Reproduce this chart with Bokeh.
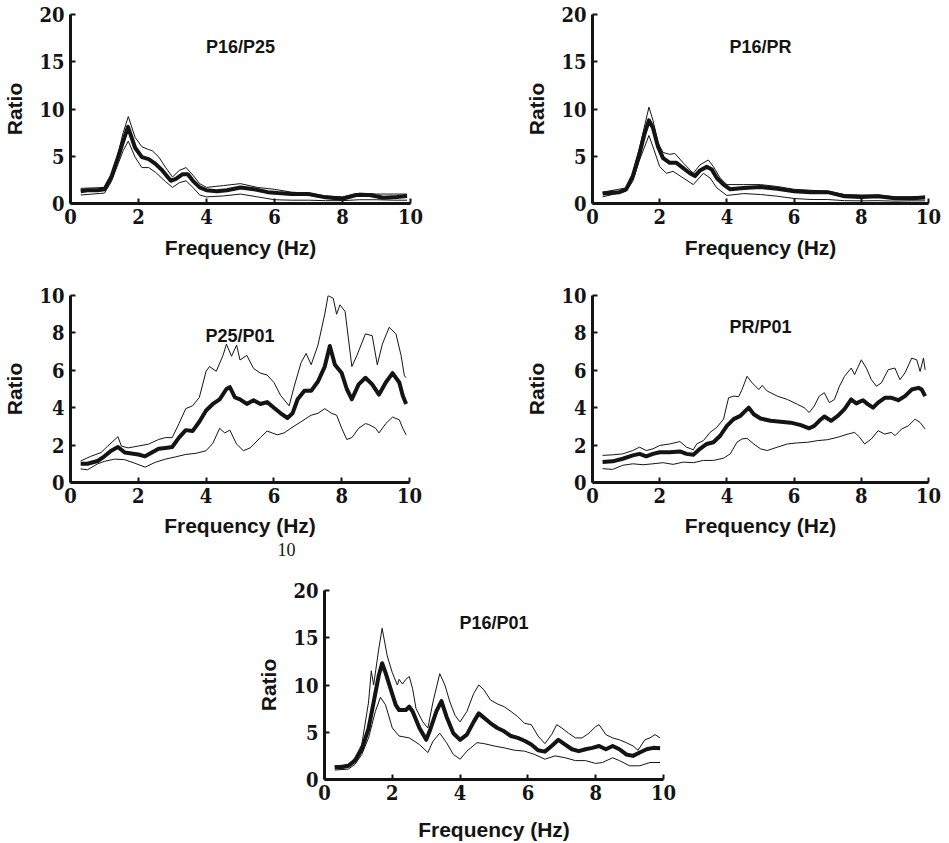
from bokeh.plotting import figure
from bokeh.models import Range1d, FixedTicker, Label, Title
from bokeh.layouts import row, column
from bokeh.embed import file_html
from bokeh.resources import INLINE

# ---------------- data ----------------
x_ticks = [0, 2, 4, 6, 8, 10]
y_ticks_20 = [0, 5, 10, 15, 20]
y_ticks_10 = [0, 2, 4, 6, 8, 10]

# P16/P25
p16p25_mean_f = [0.3, 0.5, 0.8, 1.0, 1.2, 1.4, 1.55, 1.69, 1.9, 2.1, 2.3, 2.5, 2.7, 2.95, 3.1, 3.3, 3.45, 3.6, 3.8, 4.0, 4.3, 4.6, 5.0, 5.4, 5.8, 6.1, 6.5, 7.0, 7.5, 8.0, 8.4, 8.8, 9.2, 9.6, 9.9]
p16p25_mean = [1.3, 1.4, 1.4, 1.5, 2.8, 4.9, 6.6, 8.1, 5.9, 4.9, 4.7, 4.2, 3.5, 2.4, 2.6, 3.1, 3.1, 2.4, 1.7, 1.4, 1.3, 1.4, 1.7, 1.5, 1.2, 1.1, 1.0, 1.0, 0.65, 0.5, 0.9, 0.9, 0.6, 0.7, 0.8]
p16p25_up_f = [0.3, 1.0, 1.2, 1.4, 1.55, 1.7, 1.9, 2.1, 2.3, 2.4, 2.6, 2.8, 3.0, 3.2, 3.4, 3.6, 3.8, 4.0, 4.5, 5.0, 5.5, 6.0, 6.5, 7.0, 7.5, 8.0, 8.5, 9.0, 9.5, 9.9]
p16p25_up = [1.6, 1.7, 3.0, 5.3, 7.5, 9.2, 7.0, 6.0, 5.7, 5.6, 4.9, 3.8, 2.8, 3.5, 3.8, 3.0, 2.1, 1.7, 1.9, 2.1, 1.7, 1.5, 1.2, 1.1, 0.8, 0.7, 1.1, 1.0, 1.0, 1.0]
p16p25_lo_f = [0.3, 1.0, 1.2, 1.4, 1.55, 1.7, 1.9, 2.1, 2.3, 2.5, 2.8, 3.0, 3.2, 3.4, 3.6, 3.8, 4.0, 4.5, 5.0, 5.5, 6.0, 6.5, 7.0, 7.5, 8.0, 8.5, 9.0, 9.5, 9.9]
p16p25_lo = [0.9, 1.1, 2.3, 4.2, 5.6, 6.6, 4.9, 3.8, 3.8, 3.3, 2.3, 1.7, 2.2, 2.4, 1.7, 0.9, 0.7, 0.8, 1.0, 0.7, 0.4, 0.35, 0.35, 0.3, 0.3, 0.4, 0.4, 0.35, 0.35]

# P16/PR
p16pr_mean_f = [0.3, 0.8, 1.0, 1.2, 1.4, 1.55, 1.68, 1.8, 1.95, 2.1, 2.3, 2.5, 2.7, 2.9, 3.05, 3.2, 3.4, 3.55, 3.7, 3.9, 4.1, 4.5, 5.0, 5.5, 6.0, 6.5, 7.0, 7.5, 8.0, 8.5, 9.0, 9.5, 9.9]
p16pr_mean = [1.05, 1.2, 1.5, 2.9, 5.3, 7.4, 8.8, 8.0, 6.0, 4.8, 4.3, 4.3, 3.75, 3.2, 2.9, 3.5, 3.9, 3.6, 2.7, 2.0, 1.5, 1.65, 1.75, 1.55, 1.3, 1.2, 1.2, 0.77, 0.7, 0.77, 0.56, 0.56, 0.63]
p16pr_up_f = [0.3, 1.0, 1.2, 1.4, 1.68, 1.8, 1.95, 2.1, 2.3, 2.45, 2.7, 3.0, 3.2, 3.45, 3.6, 3.8, 4.0, 4.5, 5.0, 5.5, 6.0, 6.5, 7.0, 7.5, 8.0, 8.5, 9.0, 9.5, 9.9]
p16pr_up = [1.2, 1.65, 3.2, 5.9, 10.2, 8.8, 6.4, 5.4, 5.2, 5.3, 4.3, 3.2, 4.1, 4.6, 3.9, 2.7, 2.0, 2.0, 2.0, 1.8, 1.5, 1.4, 1.3, 0.95, 0.9, 0.9, 0.7, 0.7, 0.77]
p16pr_lo_f = [0.3, 1.0, 1.2, 1.4, 1.68, 1.8, 2.0, 2.2, 2.4, 2.7, 3.0, 3.3, 3.5, 3.7, 4.0, 4.5, 5.0, 5.5, 6.0, 6.5, 7.0, 7.5, 8.0, 8.5, 9.0, 9.5, 9.9]
p16pr_lo = [0.7, 1.3, 2.35, 4.6, 7.2, 6.0, 3.9, 3.2, 3.4, 2.7, 2.0, 3.2, 2.7, 1.65, 0.85, 1.05, 0.95, 0.77, 0.53, 0.42, 0.42, 0.3, 0.28, 0.3, 0.25, 0.28, 0.28]

# P25/P01
p25p01_mean_f = [0.3, 0.5, 0.8, 1.0, 1.2, 1.4, 1.6, 1.8, 2.0, 2.2, 2.4, 2.6, 2.8, 3.0, 3.2, 3.4, 3.6, 3.8, 4.0, 4.2, 4.4, 4.6, 4.7, 4.85, 5.0, 5.2, 5.4, 5.6, 5.8, 6.0, 6.2, 6.4, 6.55, 6.7, 6.9, 7.1, 7.3, 7.5, 7.65, 7.8, 8.0, 8.15, 8.3, 8.5, 8.7, 8.9, 9.1, 9.3, 9.5, 9.7, 9.8, 9.9]
p25p01_mean = [1.0, 1.0, 1.15, 1.4, 1.7, 1.9, 1.6, 1.55, 1.5, 1.4, 1.6, 1.8, 1.85, 1.9, 2.4, 2.8, 2.75, 3.25, 3.85, 4.2, 4.45, 5.0, 5.1, 4.55, 4.45, 4.2, 4.4, 4.2, 4.3, 4.0, 3.7, 3.45, 3.7, 4.45, 4.9, 4.9, 5.4, 6.2, 7.3, 6.3, 5.85, 5.0, 4.45, 5.25, 5.6, 5.25, 4.7, 5.35, 5.85, 5.35, 4.65, 4.2]
p25p01_up_f = [0.3, 0.6, 0.9, 1.1, 1.4, 1.5, 1.7, 2.0, 2.3, 2.6, 2.8, 3.0, 3.2, 3.4, 3.6, 3.8, 4.0, 4.1, 4.3, 4.5, 4.6, 4.75, 4.9, 5.0, 5.2, 5.4, 5.6, 5.8, 6.0, 6.2, 6.45, 6.6, 6.8, 6.95, 7.1, 7.3, 7.5, 7.6, 7.75, 7.85, 7.95, 8.1, 8.3, 8.45, 8.7, 8.9, 9.05, 9.2, 9.4, 9.6, 9.75, 9.85, 9.9]
p25p01_up = [1.15, 1.4, 1.6, 1.95, 2.45, 1.95, 1.85, 1.95, 2.05, 2.3, 2.4, 2.4, 3.15, 3.95, 4.1, 4.55, 5.95, 6.2, 5.95, 6.8, 7.4, 6.75, 7.35, 6.55, 6.8, 6.1, 5.85, 5.75, 5.35, 4.65, 4.1, 5.15, 6.4, 6.9, 6.3, 7.35, 9.0, 10.0, 9.85, 9.0, 9.5, 9.15, 6.2, 6.8, 7.95, 7.85, 6.3, 7.4, 8.3, 7.95, 6.8, 5.7, 5.6]
p25p01_lo_f = [0.3, 0.5, 0.8, 1.0, 1.3, 1.6, 1.9, 2.2, 2.5, 2.8, 3.1, 3.4, 3.7, 4.0, 4.2, 4.4, 4.55, 4.7, 4.9, 5.1, 5.3, 5.6, 5.8, 6.1, 6.3, 6.5, 6.8, 7.1, 7.3, 7.5, 7.7, 7.85, 8.0, 8.15, 8.3, 8.5, 8.7, 8.8, 9.0, 9.1, 9.3, 9.5, 9.7, 9.8, 9.9]
p25p01_lo = [0.73, 0.68, 1.0, 1.13, 1.25, 1.22, 1.03, 0.82, 1.08, 1.25, 1.37, 1.5, 1.56, 1.7, 2.1, 2.9, 2.65, 2.8, 2.05, 1.7, 1.85, 2.4, 2.75, 2.55, 2.65, 2.9, 3.25, 3.6, 3.7, 3.95, 3.7, 3.6, 2.9, 2.3, 2.4, 2.9, 3.15, 3.1, 2.9, 2.65, 3.15, 3.5, 3.35, 2.9, 2.55]

# PR/P01
prp01_mean_f = [0.3, 0.6, 0.9, 1.2, 1.4, 1.6, 1.8, 2.0, 2.3, 2.6, 2.8, 3.0, 3.2, 3.4, 3.6, 3.8, 4.0, 4.2, 4.4, 4.55, 4.65, 4.8, 5.0, 5.3, 5.6, 5.9, 6.2, 6.45, 6.6, 6.75, 6.9, 7.1, 7.3, 7.5, 7.7, 7.85, 8.05, 8.2, 8.35, 8.5, 8.7, 8.9, 9.1, 9.3, 9.5, 9.7, 9.8, 9.9]
prp01_mean = [1.1, 1.13, 1.27, 1.45, 1.53, 1.4, 1.53, 1.62, 1.62, 1.66, 1.53, 1.48, 1.8, 2.06, 2.15, 2.5, 3.03, 3.39, 3.56, 3.83, 4.0, 3.65, 3.42, 3.3, 3.25, 3.2, 3.07, 2.9, 3.03, 3.3, 3.53, 3.3, 3.56, 3.92, 4.44, 4.23, 4.4, 4.18, 4.0, 4.27, 4.53, 4.53, 4.4, 4.62, 4.97, 5.06, 4.97, 4.62]
prp01_up_f = [0.3, 0.6, 0.9, 1.2, 1.4, 1.6, 1.8, 2.0, 2.3, 2.6, 2.8, 3.0, 3.1, 3.3, 3.5, 3.7, 3.9, 4.05, 4.2, 4.35, 4.45, 4.6, 4.75, 4.95, 5.05, 5.2, 5.5, 5.8, 6.1, 6.3, 6.45, 6.6, 6.75, 6.9, 7.05, 7.2, 7.35, 7.5, 7.7, 7.8, 8.0, 8.15, 8.3, 8.45, 8.6, 8.8, 9.0, 9.15, 9.3, 9.5, 9.65, 9.75, 9.85, 9.9]
prp01_up = [1.45, 1.48, 1.53, 1.71, 1.89, 1.71, 1.8, 1.98, 2.06, 2.19, 1.89, 1.75, 2.06, 2.24, 2.68, 2.95, 3.39, 4.53, 4.62, 4.59, 4.97, 5.68, 5.33, 4.97, 5.19, 4.89, 4.62, 4.44, 4.18, 4.0, 3.74, 4.09, 4.62, 4.8, 4.27, 4.44, 5.15, 5.68, 6.12, 5.77, 6.56, 6.12, 5.5, 5.15, 5.33, 6.03, 6.12, 5.5, 5.86, 6.65, 6.56, 5.94, 6.65, 6.03]
prp01_lo_f = [0.3, 0.6, 0.9, 1.2, 1.5, 1.8, 2.1, 2.4, 2.7, 3.0, 3.3, 3.6, 3.9, 4.1, 4.3, 4.45, 4.6, 4.8, 5.0, 5.2, 5.5, 5.8, 6.1, 6.4, 6.7, 7.0, 7.3, 7.6, 7.8, 7.95, 8.1, 8.3, 8.5, 8.7, 8.9, 9.0, 9.2, 9.4, 9.6, 9.75, 9.9]
prp01_lo = [0.74, 0.7, 0.92, 1.0, 0.95, 1.0, 1.06, 0.97, 1.09, 1.06, 1.18, 1.18, 1.3, 1.53, 2.15, 2.33, 2.36, 2.06, 1.8, 1.71, 1.89, 2.06, 2.12, 2.15, 2.24, 2.29, 2.42, 2.59, 2.68, 2.42, 2.06, 2.33, 2.77, 2.59, 2.68, 2.5, 2.86, 3.03, 3.39, 3.21, 2.86]

# P16/P01
p16p01_mean_f = [0.3, 0.5, 0.7, 0.9, 1.1, 1.3, 1.45, 1.6, 1.7, 1.8, 1.95, 2.1, 2.2, 2.4, 2.5, 2.6, 2.8, 3.0, 3.1, 3.3, 3.45, 3.6, 3.8, 4.0, 4.2, 4.4, 4.55, 4.7, 4.9, 5.1, 5.3, 5.5, 5.7, 5.9, 6.1, 6.3, 6.5, 6.7, 6.9, 7.1, 7.3, 7.5, 7.7, 7.9, 8.1, 8.3, 8.5, 8.7, 8.9, 9.1, 9.3, 9.5, 9.7, 9.9]
p16p01_mean = [1.3, 1.3, 1.45, 2.0, 3.2, 5.4, 8.2, 11.0, 12.3, 11.3, 9.6, 7.9, 7.35, 7.35, 7.7, 7.2, 5.45, 4.2, 5.1, 7.2, 8.3, 6.65, 4.9, 4.2, 4.75, 6.1, 7.0, 6.55, 5.95, 5.45, 5.1, 4.6, 4.4, 4.1, 3.7, 3.1, 2.95, 3.55, 4.2, 3.7, 3.2, 3.0, 3.2, 3.35, 3.55, 3.2, 3.55, 3.2, 2.65, 2.5, 2.85, 3.2, 3.35, 3.3]
p16p01_up_f = [0.3, 0.7, 0.9, 1.1, 1.3, 1.38, 1.45, 1.6, 1.7, 1.85, 2.0, 2.15, 2.2, 2.3, 2.4, 2.5, 2.6, 2.7, 2.9, 3.05, 3.2, 3.4, 3.55, 3.7, 3.85, 3.95, 4.0, 4.2, 4.4, 4.55, 4.7, 4.9, 5.1, 5.3, 5.5, 5.7, 5.9, 6.1, 6.3, 6.5, 6.7, 6.85, 7.0, 7.2, 7.4, 7.6, 7.8, 8.0, 8.1, 8.3, 8.5, 8.7, 8.9, 9.1, 9.25, 9.45, 9.6, 9.75, 9.9]
p16p01_up = [1.45, 1.55, 2.3, 3.7, 8.2, 11.5, 10.0, 13.8, 16.0, 13.1, 11.3, 10.0, 10.6, 10.1, 10.6, 10.9, 9.6, 7.5, 6.1, 5.45, 8.2, 11.2, 10.0, 8.2, 6.8, 6.3, 6.1, 7.2, 9.1, 10.0, 9.5, 8.4, 8.0, 7.7, 7.2, 6.65, 5.95, 5.8, 4.6, 3.8, 4.75, 5.8, 5.45, 4.9, 4.4, 4.4, 4.9, 5.6, 5.8, 4.75, 4.4, 4.2, 3.9, 3.55, 3.1, 4.2, 4.4, 4.75, 4.4]
p16p01_lo_f = [0.3, 0.7, 0.9, 1.1, 1.3, 1.5, 1.65, 1.8, 2.0, 2.2, 2.5, 2.8, 3.05, 3.2, 3.4, 3.6, 3.8, 4.0, 4.2, 4.5, 4.7, 5.0, 5.3, 5.6, 5.9, 6.2, 6.5, 6.8, 7.1, 7.4, 7.7, 8.0, 8.2, 8.5, 8.7, 9.0, 9.3, 9.6, 9.9]
p16p01_lo = [1.0, 1.1, 1.6, 2.65, 4.4, 7.2, 8.7, 7.9, 5.45, 4.6, 4.4, 3.7, 2.85, 4.05, 4.9, 3.9, 2.65, 2.15, 3.0, 3.9, 3.8, 3.55, 3.35, 3.1, 3.0, 2.65, 2.15, 2.5, 2.3, 2.0, 2.0, 1.7, 1.8, 2.3, 2.0, 1.45, 1.45, 1.8, 1.8]

titles = ["P16/P25", "P16/PR", "P25/P01", "PR/P01", "P16/P01"]
page_number = "10"

INK = "#141414"
TICK_FONT = "DejaVu Serif Condensed"
SERIF = "Liberation Serif"
SANS = "Liberation Sans"


def make_panel(title, ymax, yticks, curves, w, h, bl, br, bt, bb, title_frac=0.83, xlab_standoff=9):
    p = figure(width=w, height=h, x_range=Range1d(0, 10), y_range=Range1d(0, ymax),
               output_backend="svg", toolbar_location=None,
               min_border_left=bl, min_border_right=br,
               min_border_top=bt, min_border_bottom=bb)
    p.outline_line_color = None
    p.grid.visible = False
    for f, v, lw in curves:
        p.line(f, v, line_width=lw, line_color=INK, line_join="round")
    xa = p.xaxis[0]
    ya = p.yaxis[0]
    xa.ticker = FixedTicker(ticks=x_ticks)
    ya.ticker = FixedTicker(ticks=yticks)
    xa.axis_label = "Frequency (Hz)"
    ya.axis_label = "Ratio"
    for ax in (xa, ya):
        ax.axis_line_width = 3
        ax.axis_line_color = INK
        ax.major_tick_in = 5
        ax.major_tick_out = 0
        ax.major_tick_line_width = 2
        ax.major_tick_line_color = INK
        ax.minor_tick_line_color = None
        ax.major_label_text_font = TICK_FONT
        ax.major_label_text_font_size = "20px"
        ax.major_label_text_font_style = "bold"
        ax.major_label_text_color = INK
        ax.axis_label_text_font = SANS
        ax.axis_label_text_font_size = "21px"
        ax.axis_label_text_font_style = "bold"
        ax.axis_label_text_color = INK
    xa.major_label_standoff = 5
    xa.axis_label_standoff = xlab_standoff
    ya.major_label_standoff = 6
    ya.axis_label_standoff = 10
    p.add_layout(Label(x=5, y=ymax * title_frac, text=title, text_align="center",
                       text_baseline="middle", text_font=SANS,
                       text_font_size="18px", text_font_style="bold", text_color=INK))
    return p


MEAN_W = 4
p1 = make_panel(titles[0], 20, y_ticks_20,
                [(p16p25_up_f, p16p25_up, 1), (p16p25_lo_f, p16p25_lo, 1), (p16p25_mean_f, p16p25_mean, MEAN_W)],
                478, 280, 68, 68, 12, 77)
p2 = make_panel(titles[1], 20, y_ticks_20,
                [(p16pr_up_f, p16pr_up, 1), (p16pr_lo_f, p16pr_lo, 1), (p16pr_mean_f, p16pr_mean, MEAN_W)],
                469, 280, 114, 19, 14, 76)
p3 = make_panel(titles[2], 10, y_ticks_10,
                [(p25p01_up_f, p25p01_up, 1), (p25p01_lo_f, p25p01_lo, 1), (p25p01_mean_f, p25p01_mean, MEAN_W)],
                478, 290, 68, 69, 11, 88, title_frac=0.785, xlab_standoff=8)
p3.add_layout(Title(text=page_number, align="left", offset=207, standoff=2,
                    text_font=SERIF, text_font_size="18px", text_font_style="normal",
                    text_color=INK), "below")
p4 = make_panel(titles[3], 10, y_ticks_10,
                [(prp01_up_f, prp01_up, 1), (prp01_lo_f, prp01_lo, 1), (prp01_mean_f, prp01_mean, MEAN_W)],
                469, 290, 114, 19, 15, 86, xlab_standoff=8)
p5 = make_panel(titles[4], 20, y_ticks_20,
                [(p16p01_up_f, p16p01_up, 1), (p16p01_lo_f, p16p01_lo, 1), (p16p01_mean_f, p16p01_mean, MEAN_W)],
                700, 273, 324, 37, 20, 62, xlab_standoff=15)

layout = column(row(p1, p2), row(p3, p4), p5)

open("out.html", "w").write(file_html(layout, INLINE))
